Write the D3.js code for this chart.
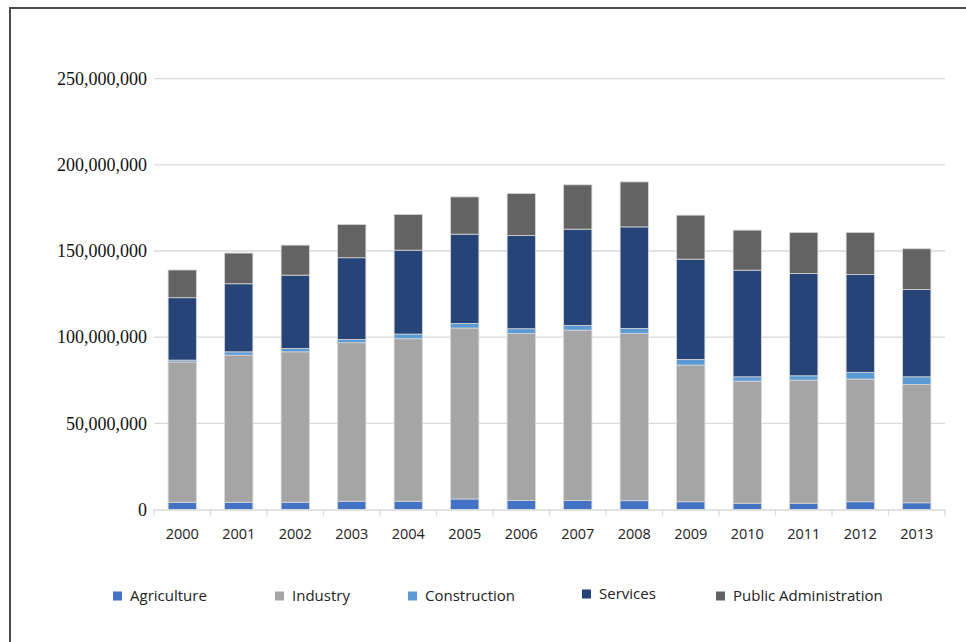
<!DOCTYPE html>
<html>
<head>
<meta charset="utf-8">
<script src="https://cdn.jsdelivr.net/npm/d3@7"></script>
<style>
  body { margin: 0; background: #fff; }
</style>
</head>
<body>
<div id="chart"></div>
<script>
const years = ["2000","2001","2002","2003","2004","2005","2006","2007","2008","2009","2010","2011","2012","2013"];
const sectors = ["Agriculture", "Industry", "Construction", "Services", "Public Administration"];

// values in millions
const agriculture  = [4.2, 4.2, 4.2, 4.8, 4.8, 6.1, 5.3, 5.3, 5.1, 4.5, 3.6, 3.6, 4.5, 3.9];
const industry     = [81.4, 85.4, 87.3, 92.0, 94.3, 99.2, 96.9, 98.8, 97.1, 79.3, 70.9, 71.5, 71.2, 68.7];
const construction = [1.1, 1.9, 2.0, 1.9, 2.7, 2.7, 2.7, 2.7, 2.9, 3.3, 2.5, 2.5, 3.9, 4.4];
const services     = [36.2, 39.5, 42.5, 47.4, 48.7, 51.8, 54.1, 55.9, 58.9, 58.2, 61.9, 59.4, 56.8, 50.7];
const publicAdmin  = [16.1, 17.8, 17.4, 19.3, 20.7, 21.6, 24.4, 25.7, 26.1, 25.5, 23.2, 23.8, 24.4, 23.6];

const yTicks = [0, 50000000, 100000000, 150000000, 200000000, 250000000];

const colors = ["#4472c4", "#a5a5a5", "#5b9bd5", "#264478", "#636363"];

const width = 966, height = 642;

const svg = d3.select("#chart").append("svg")
  .attr("width", width)
  .attr("height", height);

// frame (left and top edges visible)
svg.append("rect")
  .attr("x", 10).attr("y", 8)
  .attr("width", 980).attr("height", 660)
  .attr("fill", "none")
  .attr("stroke", "#4a4a4a")
  .attr("stroke-width", 2);

const table = years.map((y, i) => ({
  year: y,
  "Agriculture": agriculture[i] * 1e6,
  "Industry": industry[i] * 1e6,
  "Construction": construction[i] * 1e6,
  "Services": services[i] * 1e6,
  "Public Administration": publicAdmin[i] * 1e6
}));

const stacked = d3.stack().keys(sectors)(table);

let x = d3.scaleBand()
  .domain(years)
  .range([154, 945])
  .paddingInner(0.5)
  .paddingOuter(0.25);

let y = d3.scaleLinear()
  .domain([0, 250000000])
  .range([509.5, 78.7]);

let color = d3.scaleOrdinal().domain(sectors).range(colors);

// gridlines
svg.append("g")
  .selectAll("line")
  .data(yTicks.slice(1))
  .join("line")
  .attr("x1", 154).attr("x2", 945)
  .attr("y1", d => y(d)).attr("y2", d => y(d))
  .attr("stroke", "#d9d9d9")
  .attr("stroke-width", 1.3);

// y labels
svg.append("g")
  .selectAll("text")
  .data(yTicks)
  .join("text")
  .attr("x", 147)
  .attr("y", d => y(d))
  .attr("dy", "0.35em")
  .attr("text-anchor", "end")
  .style("font-family", "'Liberation Serif', 'Times New Roman', serif")
  .style("font-size", "18px")
  .style("fill", "#111")
  .text(d => d3.format(",")(d));

// bars
svg.append("g")
  .selectAll("g")
  .data(stacked)
  .join("g")
  .attr("fill", d => color(d.key))
  .selectAll("rect")
  .data(d => d)
  .join("rect")
  .attr("x", d => x(d.data.year))
  .attr("width", x.bandwidth())
  .attr("y", d => y(d[1]))
  .attr("height", d => y(d[0]) - y(d[1]))
  .attr("stroke", "#d6d6d6")
  .attr("stroke-width", 0.8);

// x axis
let xAxis = svg.append("g")
  .attr("transform", `translate(0,${y(0)})`)
  .call(d3.axisBottom(x).tickSize(0).tickPadding(19));
xAxis.select(".domain").attr("stroke", "#d9d9d9").attr("stroke-width", 1.3);
xAxis.selectAll("text")
  .style("font-family", "'Open Sans', 'Noto Sans', sans-serif")
  .style("font-size", "14.5px")
  .style("fill", "#222");

// tick marks at category boundaries
const bounds = years.map(d => x(d) - x.step() * x.paddingInner() / 2);
bounds.push(945);
xAxis.append("g")
  .selectAll("line")
  .data(bounds)
  .join("line")
  .attr("x1", d => d).attr("x2", d => d)
  .attr("y1", 0).attr("y2", 6)
  .attr("stroke", "#d9d9d9")
  .attr("stroke-width", 1.3);

// legend
const legendX = [113, 275, 408, 582, 716];
const legendY = [596, 596, 596, 594, 596];
let legend = svg.append("g")
  .selectAll("g")
  .data(sectors)
  .join("g")
  .attr("transform", (d, i) => `translate(${legendX[i]},${legendY[i]})`);

legend.append("rect")
  .attr("x", 0).attr("y", -4.5)
  .attr("width", 9).attr("height", 9)
  .attr("fill", d => color(d));

legend.append("text")
  .attr("x", 17)
  .attr("y", 0)
  .attr("dy", "0.35em")
  .style("font-family", "'Open Sans', 'Noto Sans', sans-serif")
  .style("font-size", "15px")
  .style("fill", "#222")
  .text(d => d);
</script>
</body>
</html>
